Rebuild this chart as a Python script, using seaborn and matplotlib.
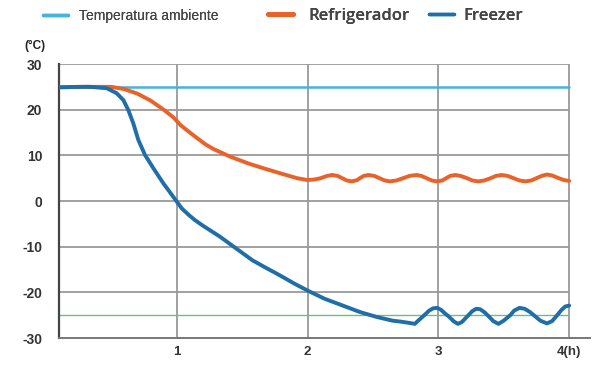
import matplotlib
matplotlib.use("Agg")
import matplotlib.pyplot as plt
import seaborn as sns
import pandas as pd
from matplotlib.lines import Line2D

# ---- data ----
fridge_h = [0.10, 0.30, 0.50, 0.60, 0.70, 0.80, 0.90, 0.975, 1.03, 1.10, 1.15, 1.22, 1.28, 1.41,
            1.55, 1.66, 1.80, 1.92,
            2.00, 2.05, 2.10, 2.15, 2.19, 2.23, 2.265, 2.30, 2.34, 2.38, 2.40, 2.43, 2.465,
            2.51, 2.55, 2.59, 2.63, 2.68, 2.73, 2.78, 2.835, 2.87, 2.91, 2.95, 2.99, 3.03,
            3.06, 3.09, 3.13, 3.17, 3.22, 3.26, 3.305, 3.35, 3.40, 3.44, 3.485, 3.53, 3.575,
            3.62, 3.665, 3.71, 3.75, 3.79, 3.83, 3.87, 3.92, 3.96, 4.00]
fridge_t = [24.9, 25.0, 25.0, 24.5, 23.5, 22.0, 20.0, 18.3, 16.6, 15.0, 13.9, 12.4, 11.4, 9.7,
            8.2, 7.2, 6.0, 5.0,
            4.6, 4.7, 5.0, 5.5, 5.7, 5.5, 5.0, 4.5, 4.3, 4.6, 5.0, 5.5, 5.7,
            5.5, 5.0, 4.5, 4.3, 4.5, 5.0, 5.5, 5.7, 5.5, 5.0, 4.5, 4.3, 4.5,
            5.0, 5.5, 5.7, 5.5, 5.0, 4.5, 4.3, 4.5, 5.0, 5.5, 5.7, 5.5, 5.0,
            4.5, 4.3, 4.5, 5.0, 5.5, 5.8, 5.6, 5.0, 4.6, 4.4]

freezer_h = [0.10, 0.25, 0.337, 0.465, 0.541, 0.592, 0.630, 0.668, 0.706, 0.757, 0.821,
             0.897, 0.974, 1.038, 1.09, 1.14, 1.20, 1.33, 1.45, 1.58, 1.68, 1.79, 1.90,
             2.00, 2.13, 2.27, 2.40, 2.53, 2.65,
             2.71, 2.78, 2.82, 2.85, 2.885, 2.93, 2.96, 2.99, 3.02, 3.05, 3.08, 3.12, 3.15,
             3.18, 3.22, 3.26, 3.29, 3.32, 3.35, 3.38, 3.42, 3.46, 3.50, 3.55, 3.58, 3.62,
             3.66, 3.70, 3.73, 3.78, 3.83, 3.87, 3.90, 3.94, 3.97, 4.00]
freezer_t = [24.9, 25.0, 25.0, 24.7, 23.6, 22.1, 19.9, 17.0, 13.4, 10.1, 7.2,
             3.9, 0.9, -1.6, -3.0, -4.2, -5.4, -7.8, -10.3, -13.0, -14.6, -16.3, -18.1,
             -19.6, -21.4, -22.9, -24.3, -25.4, -26.2,
             -26.4, -26.7, -26.9, -26.1, -25.2, -24.0, -23.5, -23.4, -23.8, -24.6, -25.3, -26.4, -26.9,
             -26.5, -25.3, -24.1, -23.6, -23.7, -24.3, -25.1, -26.3, -26.9, -26.2, -25.0, -24.0, -23.4,
             -23.6, -24.3, -25.0, -26.2, -26.8, -26.3, -25.3, -23.9, -23.1, -22.9]

ambient_h = [0.10, 4.00]
ambient_t = [25, 25]
ref_t = -25

x_ticks = [1, 2, 3, 4]
x_labels = ["1", "2", "3", "4(h)"]
y_ticks = [30, 20, 10, 0, -10, -20, -30]

labels = ["Temperatura ambiente", "Refrigerador", "Freezer"]
c_amb, c_fr, c_fz, c_green = "#46b3dc", "#e8622a", "#1f6ea8", "#6cbf7e"

# ---- figure ----
sns.set_theme(style="white")
plt.rcParams['font.family'] = ['Liberation Sans', 'DejaVu Sans']
fig = plt.figure(figsize=(6.09, 3.77), dpi=100)
ax = fig.add_axes([0.0969, 0.1034, 0.872, 0.7268])

ax.set_xlim(0.1, 4.16)
ax.set_ylim(-30, 30)

# grid
for x in x_ticks:
    ax.axvline(x, color="#9a9a9a", lw=1.3, zorder=1)
for y in y_ticks[:-1]:
    ax.hlines(y, 0.1, 4.0, color="#9a9a9a", lw=1.3, zorder=1)

ax.hlines(ref_t, 0.1, 4.0, color=c_green, lw=1.0, zorder=2)
sns.lineplot(x=ambient_h, y=ambient_t, ax=ax, color=c_amb, lw=1.8, zorder=3)
sns.lineplot(data=pd.DataFrame({"h": fridge_h, "t": fridge_t}), x="h", y="t",
             ax=ax, color=c_fr, lw=2.8, zorder=4, sort=False,
             solid_joinstyle="round", solid_capstyle="round")
sns.lineplot(data=pd.DataFrame({"h": freezer_h, "t": freezer_t}), x="h", y="t",
             ax=ax, color=c_fz, lw=2.8, zorder=5, sort=False,
             solid_joinstyle="round", solid_capstyle="round")

ax.set_xlabel("")
ax.set_ylabel("")
ax.set_xticks(x_ticks)
ax.set_xticklabels(x_labels, fontsize=9.5, fontweight="bold", color="#333333")
ax.set_yticks(y_ticks)
ax.set_yticklabels([str(v) for v in y_ticks], fontsize=10, fontweight="bold", color="#333333")
ax.tick_params(axis="y", length=0, pad=12)
ax.tick_params(axis="x", length=4, direction="in", width=1.2, color="#333333", pad=6)

for s in ["top", "right"]:
    ax.spines[s].set_visible(False)
ax.spines["left"].set_color("#444444")
ax.spines["left"].set_linewidth(1.6)
ax.spines["bottom"].set_color("#777777")
ax.spines["bottom"].set_linewidth(1.4)

fig.text(0.04, 0.878, "(°C)", fontsize=8.5, fontweight="bold", color="#222222", va="center")

# legend entries, placed individually
colors = [c_amb, c_fr, c_fz]
widths = [2.5, 3.5, 2.5]
anchors = [0.071, 0.440, 0.704]
sizes = [10, 12, 12]
hlens = [1.8, 1.5, 1.5]
hpads = [0.8, 0.9, 0.6]
for lab, col, w, xa, fs, hl, hp in zip(labels, colors, widths, anchors, sizes, hlens, hpads):
    lg = fig.legend([Line2D([0], [0], color=col, lw=w)], [lab], loc="center left",
                    bbox_to_anchor=(xa, 0.958), frameon=False, handlelength=hl,
                    handletextpad=hp, borderpad=0, borderaxespad=0, fontsize=fs)
    t = lg.get_texts()[0]
    t.set_color("#444444")
    if fs > 10:
        t.set_fontfamily(["Open Sans", "DejaVu Sans"])
        t.set_fontweight("semibold")
    fig.add_artist(lg)

fig.savefig("out.png", dpi=100)
